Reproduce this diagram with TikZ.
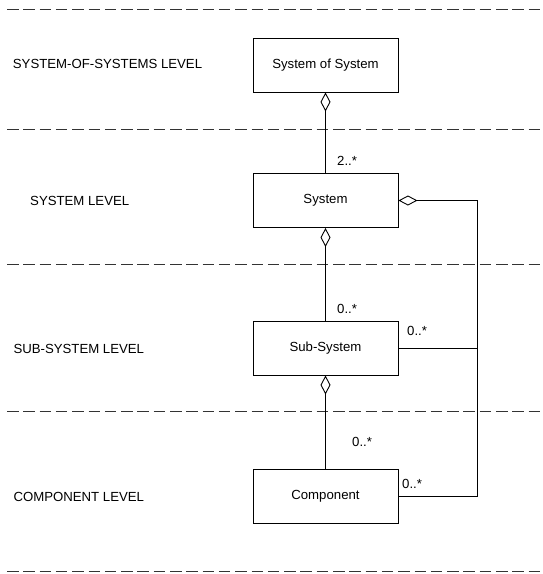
\documentclass[tikz,border=0pt]{standalone}
\usepackage{fontspec}
\setmainfont{Liberation Sans}
\usetikzlibrary{arrows.meta}

\begin{document}
\begin{tikzpicture}[x=1pt,y=-1pt,
  font=\fontsize{13.2}{15}\selectfont,
  block/.style={draw, line width=0.9pt, minimum width=145pt, minimum height=54pt, inner sep=0pt},
  lvl/.style={anchor=west, inner sep=0pt},
  mult/.style={anchor=west, inner sep=0pt},
  link/.style={line width=0.9pt},
  agg/.style={line width=0.9pt, -{Diamond[open, length=19pt, width=10pt, line width=0.9pt]}},
  sep/.style={line width=0.9pt, draw=black!80, dash pattern=on 11.5pt off 4.8pt}
]
\useasboundingbox (0,0) rectangle (543,574);

% level separators
\foreach \yy [count=\i] in {9.5,129.3,264,411.7,571}
  \draw[sep] (7,\yy) coordinate (s\i) -- (543,\yy);

% level names
\node[lvl] (lsos) at (12.7,64) {SYSTEM-OF-SYSTEMS LEVEL};
\node[lvl] (lsys) at (30,200.5) {SYSTEM LEVEL};
\node[lvl] (lsub) at (13.3,348.5) {SUB-SYSTEM LEVEL};
\node[lvl] (lcmp) at (13.3,496.5) {COMPONENT LEVEL};

% classes
\node[block] (sos) at (325.5,65) {System of System};
\node[block] (sys) at (325.5,200.5) {System};
\node[block] (sub) at (325.5,348) {Sub-System};
\node[block] (cmp) at (325.5,496) {Component};

% vertical aggregations
\draw[agg] (sys.north) -- (sos.south);
\draw[agg] (sub.north) -- (sys.south);
\draw[agg] (cmp.north) -- (sub.south);

% side aggregation bus
\coordinate (bus) at (477.7,0);
\draw[agg] (cmp.east) -- (cmp.east -| bus) |- (sys.east);
\draw[link] (sub.east) -- (sub.east -| bus);

% multiplicities
\node[mult] (m1) at (337,161) {2..*};
\node[mult] (m2) at (337,309) {0..*};
\node[mult] (m3) at (352,442) {0..*};
\node[mult] (m4) at (407,331) {0..*};
\node[mult] (m5) at (402,484) {0..*};
\end{tikzpicture}
\end{document}
